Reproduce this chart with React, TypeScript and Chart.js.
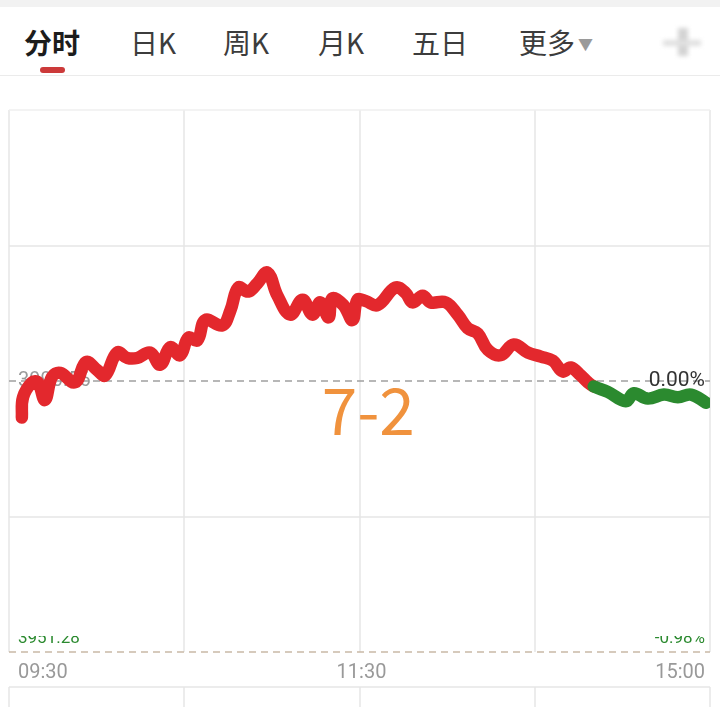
import React, { useEffect, useRef } from "react";
import { Chart, registerables } from "chart.js";

Chart.register(...registerables);

// ---- data ----
const tabs = ["分时", "日K", "周K", "月K", "五日", "更多"];
const timeLabels = ["09:30", "11:30", "15:00"];
const timeTickMinutes = [0, 120, 240];
const prevCloseLabel = "3990.56";
const lowPriceLabel = "3951.28";
const zeroPctLabel = "0.00%";
const lowPctLabel = "-0.98%";
const annotationText = "7-2";
const yMin = -2;
const yMax = 2;

const minutes = [
  4.4, 4.8, 7.9, 9.9, 12.3, 14.7, 17.5, 22.6, 26.4, 30.2, 32.9, 37.0, 40.5, 43.9, 48.3, 51.8, 55.2, 58.6,
  61.4, 64.5, 67.2, 73.0, 75.8, 78.5, 81.9, 85.0, 88.5, 91.9, 96.3, 100.5, 103.9, 106.6, 109.4, 110.7,
  114.5, 117.6, 119.3, 122.1, 126.2, 132.3, 135.8, 138.2, 141.6, 144.3, 149.5, 153.6, 157.0, 160.5,
  163.9, 168.3, 172.8, 177.6, 182.1, 186.2, 189.6, 192.3, 195.8, 198.2,
  200.2, 205.0, 211.2, 213.9, 218.7, 224.2, 229.0, 233.5, 238.6,
];
const changePct = [
  -0.27, -0.12, -0.01, -0.01, -0.14, 0.03, 0.06, -0.01, 0.14, 0.08, 0.04, 0.21, 0.17, 0.17, 0.21, 0.12, 0.25, 0.19,
  0.32, 0.3, 0.45, 0.41, 0.52, 0.69, 0.66, 0.72, 0.8, 0.63, 0.49, 0.6, 0.49, 0.58, 0.47, 0.61,
  0.56, 0.45, 0.6, 0.59, 0.56, 0.69, 0.65, 0.58, 0.63, 0.58, 0.58, 0.49, 0.39, 0.35,
  0.23, 0.19, 0.27, 0.21, 0.18, 0.15, 0.07, 0.1, 0.04, -0.01,
  -0.04, -0.08, -0.15, -0.09, -0.13, -0.1, -0.12, -0.1, -0.16,
];
const RED_COUNT = 58;

const RED = "#e3282d";
const GREEN = "#2b8a2f";

const decorPlugin = {
  id: "decor",
  beforeDatasetsDraw(chart: any) {
    const { ctx, chartArea: a, scales } = chart;
    const x = scales.x;
    const y = scales.y;
    const line = (x1: number, y1: number, x2: number, y2: number) => {
      ctx.beginPath();
      ctx.moveTo(x1, y1);
      ctx.lineTo(x2, y2);
      ctx.stroke();
    };
    ctx.save();
    ctx.lineWidth = 1.5;
    ctx.strokeStyle = "#e6e6e6";
    const volTop = a.bottom + 35;
    for (let m = 0; m <= 240; m += 60) {
      const px = Math.round(x.getPixelForValue(m));
      line(px, a.top, px, a.bottom);
      line(px, volTop, px, chart.height);
    }
    line(a.left, volTop, a.right, volTop);
    [yMax, 1, -1].forEach((v) => {
      const py = Math.round(y.getPixelForValue(v));
      ctx.strokeStyle = v === yMax ? "#efefef" : "#e6e6e6";
      line(a.left, py, a.right, py);
    });
    // baseline dashed
    ctx.setLineDash([7, 5]);
    ctx.strokeStyle = "#a0a0a0";
    ctx.lineWidth = 1.6;
    const py0 = Math.round(y.getPixelForValue(0));
    line(a.left, py0, a.right, py0);
    // bottom dashed
    ctx.strokeStyle = "#c9b9a6";
    const pyb = Math.round(y.getPixelForValue(yMin));
    line(a.left, pyb, a.right, pyb);
    ctx.setLineDash([]);

    // prev close label (under the line)
    ctx.font = "20px Roboto";
    ctx.fillStyle = "#9a9a9a";
    ctx.textBaseline = "middle";
    ctx.textAlign = "left";
    ctx.fillText(prevCloseLabel, a.left + 9, py0);
    ctx.restore();
  },
  afterDatasetsDraw(chart: any) {
    const { ctx, chartArea: a, scales } = chart;
    const x = scales.x;
    const y = scales.y;
    ctx.save();
    const py0 = y.getPixelForValue(0);
    ctx.font = "21px Roboto";
    ctx.fillStyle = "#333333";
    ctx.textAlign = "right";
    ctx.textBaseline = "middle";
    ctx.fillText(zeroPctLabel, a.right - 5, py0);

    // bottom labels (partly whited out as in the picture)
    const pyb = y.getPixelForValue(yMin);
    ctx.font = "17px Roboto";
    ctx.fillStyle = "#2b8a2f";
    ctx.textBaseline = "alphabetic";
    ctx.textAlign = "left";
    ctx.fillText(lowPriceLabel, a.left + 9, pyb - 9);
    ctx.textAlign = "right";
    ctx.fillText(lowPctLabel, a.right - 5, pyb - 9);
    ctx.fillStyle = "#ffffff";
    ctx.fillRect(a.left + 4, pyb - 34, 90, 18);
    ctx.fillRect(a.right - 70, pyb - 34, 66, 18);

    // time labels
    ctx.font = "20px Roboto";
    ctx.fillStyle = "#999999";
    ctx.textBaseline = "alphabetic";
    timeTickMinutes.forEach((m, i) => {
      const px = x.getPixelForValue(m);
      ctx.textAlign = i === 0 ? "left" : i === timeTickMinutes.length - 1 ? "right" : "center";
      const off = i === 0 ? 9 : i === timeTickMinutes.length - 1 ? -5 : 2;
      ctx.fillText(timeLabels[i], px + off, a.bottom + 26);
    });

    // annotation
    ctx.font = "64px 'Noto Sans CJK SC'";
    ctx.fillStyle = "#f0923d";
    ctx.textAlign = "center";
    ctx.fillText(annotationText, x.getPixelForValue(123), py0 + 54);
    ctx.restore();
  },
};

export default function App() {
  const canvasRef = useRef<HTMLCanvasElement | null>(null);

  useEffect(() => {
    const canvas = canvasRef.current;
    if (!canvas) return;
    const chart = new Chart(canvas, {
      type: "line",
      data: {
        datasets: [
          {
            data: minutes.map((m, i) => ({ x: m, y: changePct[i] })),
            borderColor: RED,
            borderWidth: 12.5,
            tension: 0.4,
            borderCapStyle: "round",
            borderJoinStyle: "round",
            pointRadius: 0,
            fill: false,
            segment: {
              borderColor: (c: any) => (c.p0DataIndex >= RED_COUNT ? GREEN : RED),
            },
          } as any,
        ],
      },
      options: {
        animation: false,
        responsive: false,
        devicePixelRatio: 1,
        layout: { padding: { left: 9, right: 10, top: 110, bottom: 55 } },
        scales: {
          x: { type: "linear", min: 0, max: 240, display: false },
          y: { type: "linear", min: yMin, max: yMax, display: false },
        },
        plugins: { legend: { display: false }, tooltip: { enabled: false } },
      },
      plugins: [decorPlugin],
    });
    return () => chart.destroy();
  }, []);

  const tabLeft = [24, 130, 223, 318, 412, 519];

  return (
    <div style={{ position: "fixed", left: 0, top: 0, width: 720, height: 707, background: "#fff", overflow: "hidden" }}>
      <div style={{ position: "absolute", left: 0, top: 0, width: 720, height: 7, background: "#f2f2f2" }} />
      {tabs.map((t, i) => (
        <div
          key={t}
          style={{
            position: "absolute",
            left: tabLeft[i],
            top: 28,
            fontFamily: "'Noto Sans CJK SC', 'Noto Sans', sans-serif",
            fontSize: 28,
            lineHeight: "29px",
            fontWeight: i === 0 ? 700 : 400,
            color: i === 0 ? "#1c1c1c" : "#3c3c3c",
            whiteSpace: "nowrap",
          }}
        >
          {t}
          {i === tabs.length - 1 ? (
            <span style={{ fontSize: 15, color: "#9a9a9a", marginLeft: 3, verticalAlign: "4px" }}>▼</span>
          ) : null}
        </div>
      ))}
      <div style={{ position: "absolute", left: 40, top: 67, width: 25, height: 6, borderRadius: 3, background: "#cc3a3a" }} />
      <div style={{ position: "absolute", left: 0, top: 75, width: 720, height: 1, background: "#ebebeb" }} />
      <div style={{ position: "absolute", left: 678, top: 28, width: 10, height: 28, background: "#d4d4d4", filter: "blur(2px)" }} />
      <div style={{ position: "absolute", left: 663, top: 40, width: 38, height: 6, background: "#e0e0e0", filter: "blur(2px)" }} />
      <canvas ref={canvasRef} width={720} height={707} style={{ position: "absolute", left: 0, top: 0, width: 720, height: 707 }} />
    </div>
  );
}
